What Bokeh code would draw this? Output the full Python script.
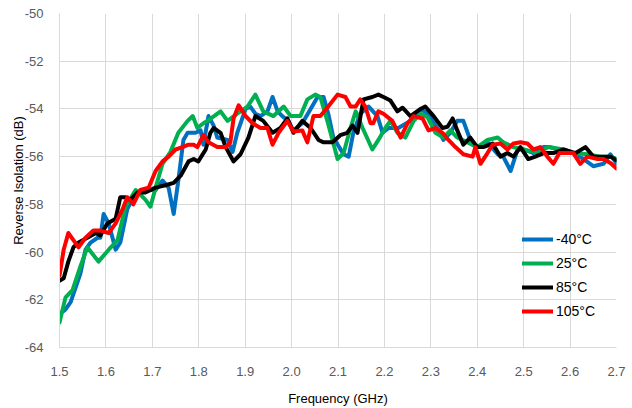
from bokeh.plotting import figure
from bokeh.models import Legend, LegendItem, FixedTicker, NumeralTickFormatter, Range1d
from bokeh.embed import file_html
from bokeh.resources import INLINE

# ---- data ----
f_m40 = [1.500, 1.513, 1.524, 1.545, 1.556, 1.567, 1.582, 1.588, 1.595, 1.606, 1.621, 1.631, 1.646, 1.664, 1.685,
         1.707, 1.722, 1.735, 1.746, 1.756, 1.767, 1.776, 1.793, 1.804, 1.810, 1.821, 1.832, 1.840, 1.862, 1.873,
         1.883, 1.901, 1.911, 1.922, 1.933, 1.948, 1.959, 1.970, 1.980, 1.993, 2.004, 2.023, 2.041, 2.056, 2.069,
         2.079, 2.090, 2.112, 2.123, 2.133, 2.148, 2.166, 2.185, 2.196, 2.209, 2.230, 2.256, 2.278, 2.293, 2.314,
         2.327, 2.342, 2.357, 2.370, 2.385, 2.400, 2.422, 2.444, 2.456, 2.472, 2.487, 2.500, 2.521, 2.543, 2.557,
         2.573, 2.586, 2.607, 2.629, 2.650, 2.672, 2.687, 2.700]
v_m40 = [-62.6, -62.4, -62.1, -60.9, -59.9, -59.6, -59.4, -59.4, -58.4, -58.8, -59.9, -59.6, -58.2, -57.5, -57.4,
         -57.4, -57.0, -57.3, -58.4, -57.0, -55.3, -55.0, -55.0, -54.9, -55.5, -54.3, -54.7, -55.2, -55.3, -55.8,
         -55.0, -54.0, -53.9, -54.2, -54.3, -54.1, -53.5, -54.1, -54.3, -54.5, -54.9, -54.6, -54.0, -53.5, -53.5,
         -54.2, -55.2, -55.9, -56.0, -55.0, -54.2, -53.9, -54.3, -55.0, -54.8, -54.8, -54.5, -54.0, -54.2, -54.8,
         -55.3, -55.0, -54.5, -54.5, -55.3, -55.6, -55.4, -55.9, -56.0, -56.6, -55.7, -55.7, -55.85, -55.6, -55.6,
         -55.7, -55.85, -55.85, -56.1, -56.4, -56.3, -55.9, -56.3]

f_25 = [1.500, 1.513, 1.528, 1.545, 1.560, 1.584, 1.606, 1.625, 1.642, 1.664, 1.685, 1.696, 1.707, 1.722, 1.739,
        1.756, 1.776, 1.787, 1.797, 1.810, 1.819, 1.847, 1.862, 1.883, 1.905, 1.922, 1.939, 1.961, 1.983, 1.998,
        2.019, 2.034, 2.051, 2.062, 2.077, 2.099, 2.112, 2.127, 2.138, 2.153, 2.174, 2.187, 2.202, 2.213, 2.228,
        2.245, 2.263, 2.278, 2.293, 2.310, 2.327, 2.342, 2.357, 2.379, 2.400, 2.422, 2.444, 2.456, 2.478, 2.500,
        2.530, 2.553, 2.586, 2.607, 2.637, 2.665, 2.687, 2.700]
v_25 = [-62.95, -61.9, -61.6, -60.6, -59.8, -60.4, -59.9, -59.5, -58.1, -57.4, -57.8, -58.1, -57.3, -56.3, -55.8,
        -55.0, -54.5, -54.3, -54.8, -54.6, -54.5, -54.1, -54.5, -54.2, -53.9, -53.4, -54.1, -54.3, -53.9, -54.3,
        -54.3, -53.6, -53.4, -53.5, -54.5, -56.1, -55.85, -54.8, -54.1, -54.8, -55.7, -55.3, -54.8, -54.5, -55.0,
        -55.2, -54.5, -54.2, -54.35, -55.0, -55.2, -54.9, -55.2, -55.4, -55.6, -55.3, -55.2, -55.4, -55.6, -55.7,
        -55.85, -55.6, -55.7, -55.85, -55.9, -56.0, -56.0, -56.1]

f_85 = [1.500, 1.509, 1.519, 1.530, 1.541, 1.560, 1.578, 1.588, 1.603, 1.621, 1.631, 1.642, 1.653, 1.668, 1.685,
        1.707, 1.728, 1.746, 1.761, 1.778, 1.789, 1.799, 1.815, 1.825, 1.832, 1.847, 1.858, 1.875, 1.890, 1.907,
        1.922, 1.939, 1.959, 1.976, 1.991, 2.004, 2.023, 2.041, 2.058, 2.069, 2.088, 2.105, 2.120, 2.131, 2.142,
        2.155, 2.174, 2.187, 2.198, 2.213, 2.228, 2.239, 2.256, 2.278, 2.288, 2.306, 2.325, 2.336, 2.347, 2.357,
        2.370, 2.385, 2.400, 2.413, 2.433, 2.450, 2.465, 2.478, 2.493, 2.510, 2.525, 2.543, 2.564, 2.586, 2.612,
        2.633, 2.650, 2.672, 2.687, 2.700]
v_85 = [-61.2, -61.1, -60.4, -59.8, -59.6, -59.4, -59.2, -59.3, -58.8, -58.6, -57.7, -57.7, -57.8, -57.5, -57.5,
        -57.3, -57.2, -57.1, -56.8, -56.2, -56.1, -56.2, -55.7, -55.0, -54.8, -55.0, -55.6, -56.2, -55.9, -55.2,
        -54.3, -54.5, -55.0, -54.8, -54.4, -55.0, -54.5, -54.8, -55.3, -55.4, -55.4, -55.1, -55.0, -54.7, -55.0,
        -53.6, -53.5, -53.4, -53.5, -53.65, -54.1, -53.95, -54.3, -54.0, -53.9, -54.3, -54.8, -54.75, -54.4, -54.9,
        -55.5, -55.2, -55.6, -55.6, -55.45, -56.0, -55.85, -56.0, -55.6, -56.1, -56.0, -55.85, -55.85, -55.7, -55.85,
        -55.6, -56.0, -56.0, -56.0, -56.15]

f_105 = [1.500, 1.509, 1.519, 1.530, 1.541, 1.556, 1.573, 1.588, 1.606, 1.621, 1.636, 1.646, 1.659, 1.674, 1.692,
         1.707, 1.722, 1.735, 1.750, 1.765, 1.778, 1.789, 1.797, 1.810, 1.821, 1.840, 1.858, 1.868, 1.875, 1.886,
         1.901, 1.916, 1.933, 1.948, 1.959, 1.972, 1.991, 2.004, 2.023, 2.034, 2.047, 2.062, 2.079, 2.099, 2.116,
         2.127, 2.138, 2.148, 2.159, 2.170, 2.176, 2.187, 2.198, 2.217, 2.235, 2.250, 2.263, 2.282, 2.295, 2.310,
         2.325, 2.338, 2.353, 2.370, 2.390, 2.396, 2.407, 2.422, 2.433, 2.450, 2.465, 2.478, 2.493, 2.508, 2.521,
         2.536, 2.551, 2.564, 2.577, 2.594, 2.607, 2.622, 2.637, 2.659, 2.672, 2.687, 2.700]
v_105 = [-61.0, -59.9, -59.2, -59.5, -59.8, -59.4, -59.1, -59.1, -59.2, -58.8, -58.2, -57.7, -58.0, -57.4, -57.3,
         -56.6, -56.2, -56.0, -55.7, -55.6, -55.5, -55.5, -55.6, -55.1, -55.4, -55.6, -55.6, -55.4, -54.4, -53.85,
         -54.3, -54.6, -54.8, -54.8, -55.5, -55.0, -54.5, -54.95, -54.9, -55.4, -54.3, -54.3, -53.9, -53.4, -53.5,
         -53.9, -53.9, -53.6, -53.9, -54.6, -54.6, -54.1, -54.2, -54.5, -55.2, -54.6, -54.3, -54.4, -54.9, -54.8,
         -55.0, -55.3, -55.6, -55.9, -56.0, -55.6, -56.3, -55.85, -55.5, -55.45, -55.7, -55.45, -55.4, -55.45, -55.7,
         -55.6, -56.0, -56.3, -55.85, -55.85, -55.85, -56.3, -56.0, -56.1, -56.1, -56.27, -56.5]

series_labels = ["-40°C", "25°C", "85°C", "105°C"]
series_colors = ["#0070C0", "#00B050", "#000000", "#FF0000"]
x_ticks = [1.5, 1.6, 1.7, 1.8, 1.9, 2.0, 2.1, 2.2, 2.3, 2.4, 2.5, 2.6, 2.7]
y_ticks = [-64, -62, -60, -58, -56, -54, -52, -50]

FONT = "Liberation Sans Narrow, Liberation Sans, Arial, sans-serif"

p = figure(width=632, height=408, output_backend="svg", toolbar_location=None,
           x_range=Range1d(1.5, 2.7), y_range=Range1d(-64, -50),
           min_border_left=59, min_border_right=16, min_border_top=13, min_border_bottom=60)
p.outline_line_color = None
p.background_fill_color = "white"
p.border_fill_color = "white"

for ax in (p.xaxis[0], p.yaxis[0]):
    ax.axis_line_color = "#d9d9d9"
    ax.major_tick_line_color = None
    ax.minor_tick_line_color = None
    ax.major_label_text_color = "#595959"
    ax.major_label_text_font = FONT
    ax.major_label_text_font_size = "13px"
    ax.axis_label_text_font = "Liberation Sans, Arial, sans-serif"
    ax.axis_label_text_font_size = "13px"
    ax.axis_label_text_font_style = "normal"
    ax.axis_label_text_color = "#000000"

p.xaxis.ticker = FixedTicker(ticks=x_ticks)
p.yaxis.ticker = FixedTicker(ticks=y_ticks)
p.xaxis.formatter = NumeralTickFormatter(format="0.0")
p.yaxis.formatter = NumeralTickFormatter(format="0")
p.xaxis.axis_label = "Frequency (GHz)"
p.yaxis.axis_label = "Reverse Isolation (dB)"
p.xaxis.major_label_standoff = 13
p.yaxis.major_label_standoff = 10
p.xaxis.axis_label_standoff = 12
p.yaxis.axis_label_standoff = -4

p.xgrid.grid_line_color = "#d9d9d9"
p.ygrid.grid_line_color = "#d9d9d9"
p.xgrid.grid_line_width = 1
p.ygrid.grid_line_width = 1

data = [(f_m40, v_m40), (f_25, v_25), (f_85, v_85), (f_105, v_105)]
items = []
for (fx, vy), lab, col in zip(data, series_labels, series_colors):
    r = p.line(fx, vy, line_color=col, line_width=4, line_join="round", line_cap="round")
    items.append(LegendItem(label=lab, renderers=[r]))

legend = Legend(items=items, location=(463, 26), orientation="vertical",
                background_fill_alpha=0, border_line_color=None,
                glyph_width=31, glyph_height=20, label_height=20, spacing=4,
                padding=0, margin=0, label_standoff=3,
                label_text_font=FONT, label_text_font_size="14px", label_text_color="#000000")
p.add_layout(legend, "center")

open("out.html", "w").write(file_html(p, INLINE))
